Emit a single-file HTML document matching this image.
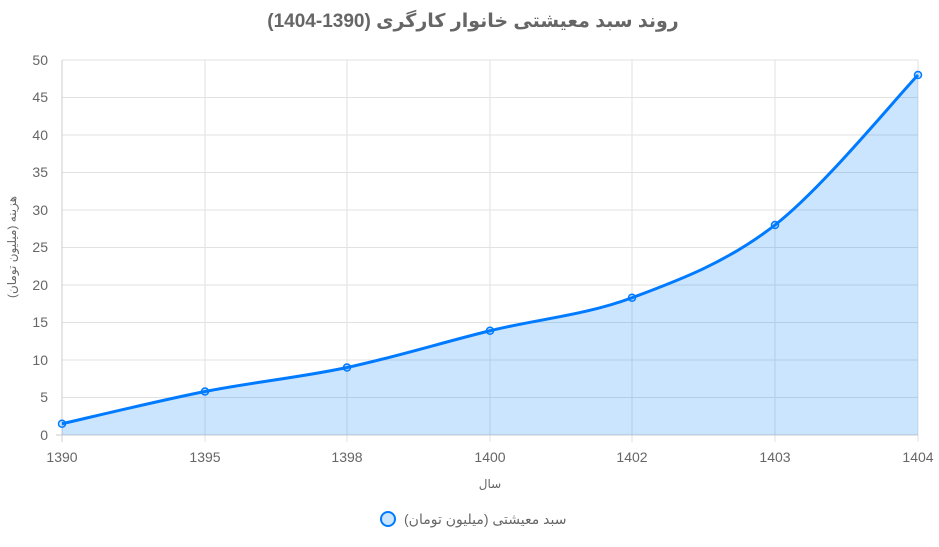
<!DOCTYPE html>
<html><head><meta charset="utf-8"><style>
body{margin:0;background:#fff;width:939px;height:542px;overflow:hidden}
text{font-family:"Liberation Sans","DejaVu Sans",sans-serif}
</style></head><body>
<svg width="939" height="542" viewBox="0 0 939 542" xmlns="http://www.w3.org/2000/svg">
<text x="473" y="27" text-anchor="middle" font-size="19" font-weight="bold" fill="#666">روند سبد معیشتی خانوار کارگری (1390-1404)</text>
<g stroke="#e2e2e2" stroke-width="1">
<line x1="62" y1="60" x2="918" y2="60"/><line x1="62" y1="97.5" x2="918" y2="97.5"/><line x1="62" y1="135" x2="918" y2="135"/><line x1="62" y1="172.5" x2="918" y2="172.5"/><line x1="62" y1="210" x2="918" y2="210"/><line x1="62" y1="247.5" x2="918" y2="247.5"/><line x1="62" y1="285" x2="918" y2="285"/><line x1="62" y1="322.5" x2="918" y2="322.5"/><line x1="62" y1="360" x2="918" y2="360"/><line x1="62" y1="397.5" x2="918" y2="397.5"/>
<line x1="205" y1="60" x2="205" y2="442"/><line x1="347" y1="60" x2="347" y2="442"/><line x1="490" y1="60" x2="490" y2="442"/><line x1="632" y1="60" x2="632" y2="442"/><line x1="775" y1="60" x2="775" y2="442"/><line x1="918" y1="60" x2="918" y2="442"/>
</g>
<g stroke="#ccc"><line x1="62" y1="60" x2="62" y2="442"/><line x1="56" y1="435" x2="918" y2="435"/></g>
<g font-size="14" fill="#666" text-anchor="end">
<text x="48" y="65">50</text><text x="48" y="102">45</text><text x="48" y="140">40</text><text x="48" y="177">35</text><text x="48" y="215">30</text><text x="48" y="252">25</text><text x="48" y="290">20</text><text x="48" y="327">15</text><text x="48" y="365">10</text><text x="48" y="402">5</text><text x="48" y="440">0</text>
</g>
<g font-size="14" fill="#666" text-anchor="middle">
<text x="62" y="462">1390</text><text x="205" y="462">1395</text><text x="347" y="462">1398</text><text x="490" y="462">1400</text><text x="632" y="462">1402</text><text x="775" y="462">1403</text><text x="918" y="462">1404</text>
</g>
<text x="490" y="488" text-anchor="middle" font-size="12" fill="#666">سال</text>
<text transform="translate(16,247) rotate(-90)" text-anchor="middle" font-size="12" fill="#666">هزینه (میلیون تومان)</text>
<path d="M62,423.75 C85.8,418.4 157.5,400.9 205,391.5 C252.5,382.1 299.5,377.6 347,367.5 C394.5,357.4 442.5,342.4 490,330.75 C537.5,319.1 584.5,315.4 632,297.75 C679.5,280.1 727.3,262.1 775,225 C822.7,187.9 894.2,100 918,75 L918,435 L62,435 Z" fill="rgba(0,123,255,0.2)"/>
<path d="M62,423.75 C85.8,418.4 157.5,400.9 205,391.5 C252.5,382.1 299.5,377.6 347,367.5 C394.5,357.4 442.5,342.4 490,330.75 C537.5,319.1 584.5,315.4 632,297.75 C679.5,280.1 727.3,262.1 775,225 C822.7,187.9 894.2,100 918,75" fill="none" stroke="#007bff" stroke-width="3"/>
<g fill="rgba(0,123,255,0.2)" stroke="#007bff" stroke-width="1.5">
<circle cx="62" cy="423.75" r="3.5"/><circle cx="205" cy="391.5" r="3.5"/><circle cx="347" cy="367.5" r="3.5"/><circle cx="490" cy="330.75" r="3.5"/><circle cx="632" cy="297.75" r="3.5"/><circle cx="775" cy="225" r="3.5"/><circle cx="918" cy="75" r="3.5"/>
</g>
<circle cx="388" cy="519" r="7" fill="rgba(0,123,255,0.2)" stroke="#007bff" stroke-width="2"/>
<text x="404" y="524" font-size="14" fill="#666">سبد معیشتی (میلیون تومان)</text>
</svg>
</body></html>
